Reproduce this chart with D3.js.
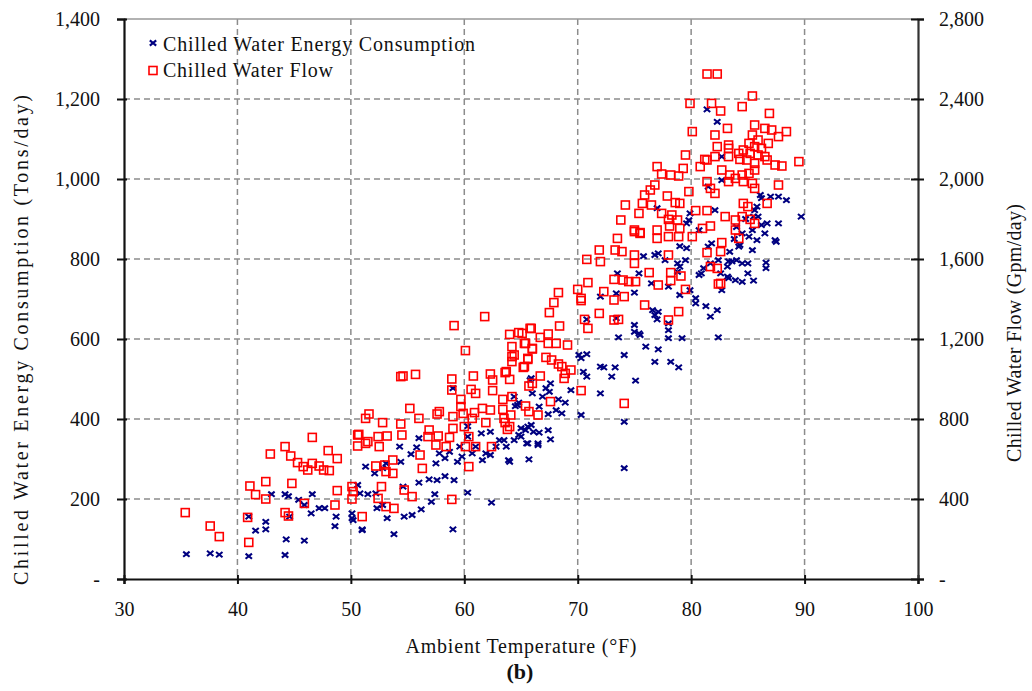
<!DOCTYPE html>
<html>
<head>
<meta charset="utf-8">
<script src="https://cdn.jsdelivr.net/npm/d3@7"></script>
<style>
  body { margin: 0; background: #fff; }
  svg text { font-family: "Liberation Serif", "Times New Roman", serif; fill: #111; }
</style>
</head>
<body>
<div id="chart"></div>
<script>
// chart values
const xTicks = [30, 40, 50, 60, 70, 80, 90, 100];
const leftTicks = [0, 200, 400, 600, 800, 1000, 1200, 1400];
const rightTicks = [0, 400, 800, 1200, 1600, 2000, 2400, 2800];
const seriesNames = ["Chilled Water Energy Consumption", "Chilled Water Flow"];

// [ambient temp F, tons/day]
const energyPoints = [
  [35.5,62],[37.6,64],[38.4,61],[41.0,57],[41.0,156],[41.6,121],[42.5,143],[42.5,124],[43.0,212],[44.2,212],
  [44.5,207],[44.3,99],[44.2,60],[45.9,96],[45.4,198],[45.9,185],[46.6,212],[46.5,164],[47.2,177],[47.7,177],
  [44.6,156],[48.7,156],[48.6,132],[50.1,164],[50.1,152],[50.6,235],[51.0,122],
  [59.0,124],[51.0,124],[53.8,112],[50.2,147],[53.2,152],[54.7,156],[55.4,160],[56.2,174],[52.3,177],[52.8,185],
  [57.1,193],[57.4,212],[60.3,216],[62.4,191],[50.8,214],[51.5,212],[52.2,214],[54.6,231],[56.0,241],[56.9,249],
  [57.6,247],[58.3,257],[59.1,247],[51.3,281],[52.1,264],[52.8,277],[53.1,289],[54.4,293],[55.3,312],[55.8,329],
  [56.0,352],[54.3,331],[57.5,289],[57.8,314],[58.3,302],[58.7,318],[59.4,293],[59.6,331],[59.8,306],[60.3,356],
  [60.3,382],[60.7,314],[61.0,331],[61.6,297],[61.9,314],[62.3,310],[62.8,331],[63.1,347],[63.7,331],[64.0,293],
  [63.5,347],[64.4,347],[65.0,377],[65.6,381],[65.6,339],[65.7,299],[66.5,335],[66.1,368],[64.5,432],[64.8,441],
  [66.0,464],[65.0,356],[62.3,368],[61.5,364],[59.0,477],[65.8,497],
  [74.1,277],[74.1,393],[70.3,410],[72.0,464],[75.1,496],[73.0,506],[73.3,529],[72.0,531],[72.3,529],[70.5,518],
  [70.8,506],[70.1,560],[70.8,562],[74.1,560],[73.6,604],[76.0,581],[77.1,574],[75.0,635],[75.0,618],[75.5,610],
  [73.4,652],[70.8,649],[73.4,714],[72.0,706],[75.0,716],[76.6,672],[77.0,649],[73.5,764],[75.4,764],[75.8,807],
  [77.1,814],[77.7,797],[69.4,472],[68.6,414],[68.9,441],[68.3,449],[67.5,468],[67.6,489],[67.2,477],[66.9,456],
  [65.9,502],[64.7,435],[64.4,456],[67.4,412],[66.6,431],[68.1,422],[65.9,385],[65.4,372],[64.8,360],[66.6,366],
  [67.4,372],[67.6,349],[66.5,339],[65.5,339],[63.9,297],[70.3,552],[76.8,810],
  [82.4,604],[79.2,602],[78.0,602],[78.2,543],[78.9,529],[78.0,622],[78.0,639],[75.4,614],[76.8,660],[77.1,668],
  [80.4,689],[81.3,682],[81.7,656],[82.3,672],[79.9,722],[80.4,702],[79.0,710],[78.0,731],[76.5,739],[78.8,768],
  [79.0,781],[79.5,797],[78.8,789],[79.6,827],[79.0,832],[80.7,760],[81.1,777],[81.7,789],[82.4,797],[83.2,781],
  [83.6,794],[83.2,756],[83.9,747],[82.7,722],[83.4,818],[84.0,797],[84.3,835],[81.8,839],[81.5,831],[80.7,872],
  [79.9,914],[79.8,897],[81.5,981],[82.1,922],[79.6,889],[77.0,927],[82.3,1143],[76.8,543],
  [81.4,1174],[82.7,1056],[82.7,997],[87.0,956],[87.7,956],[88.4,947],[86.2,952],[89.7,906],[87.7,889],[87.4,847],
  [85.6,922],[85.9,906],[86.2,885],[85.4,872],[86.5,864],[85.1,856],[85.8,847],[84.5,864],[84.2,831],[85.4,822],
  [87.5,843],[84.5,789],[85.0,789],[86.6,791],[86.6,777],[83.3,794],[85.0,764],[84.5,743],[85.5,746],[83.3,752],
  [82.6,764],[80.9,764],[86.1,960],[85.8,931],[85.5,906],[86.7,889],[84.0,880],[84.8,900],[83.8,850]
];

// [ambient temp F, gpm/day]
const flowPoints = [
  [35.4,332],[37.6,265],[38.4,212],[40.9,308],[41.0,183],[41.1,465],[41.6,422],[42.5,487],[42.5,400],[42.9,625],
  [44.2,662],[44.7,615],[44.8,478],[45.3,582],[45.8,562],[46.2,545],[46.6,578],[46.6,708],[47.2,565],[47.6,545],
  [48.1,542],[48.0,642],[48.8,602],[48.8,442],[45.9,378],[44.2,332],[44.5,315],[48.6,370],[50.1,462],[50.1,400],
  [51.0,312],[50.6,720],[50.6,665],[51.3,678],
  [61.8,1312],[59.1,1267],[60.1,1142],[64.0,1223],[64.8,1232],[65.8,1253],[64.2,1162],[65.3,1178],[66.0,1150],[64.2,1112],
  [64.2,1087],[65.2,1058],[65.6,1098],[54.4,1012],[54.6,1015],[55.7,1023],[58.9,1000],[60.8,1015],[62.3,1025],[62.5,995],
  [63.7,1037],[64.0,998],[58.9,945],[60.6,948],[61.0,928],[62.5,942],[63.4,898],[64.2,912],[59.7,898],[59.7,862],
  [55.2,853],[57.8,837],[60.9,832],[61.6,853],[62.3,845],[63.4,848],[64.1,820],[51.3,803],[51.6,825],[52.8,782],
  [54.4,775],[56.0,803],[57.6,825],[59.0,812],[59.9,828],[60.7,803],[61.9,782],[63.5,803],[64.0,762],[56.9,745],
  [59.0,753],[60.0,762],[50.7,723],[51.5,687],[52.4,712],[52.5,662],[53.2,715],[54.5,720],[56.8,712],[57.7,715],
  [58.7,708],[60.4,712],[57.5,670],[58.4,662],[60.1,662],[61.0,662],[62.4,662],[56.1,620],[56.3,553],[53.7,595],
  [53.0,570],[52.2,565],[53.1,537],[53.7,528],[60.4,562],[50.2,437],[52.4,403],[52.7,462],[54.7,445],[55.4,412],
  [58.9,398],[53.1,362],[53.8,353],
  [73.5,1703],[75.0,1737],[75.5,1732],[71.9,1645],[73.3,1645],[73.9,1637],[75.0,1620],[75.0,1578],[72.0,1587],[70.8,1598],
  [76.3,1532],[77.1,1470],[73.2,1498],[74.0,1495],[74.5,1487],[75.1,1487],[70.9,1482],[70.0,1448],[72.3,1437],[74.1,1412],
  [73.2,1395],[70.3,1403],[70.3,1392],[68.3,1432],[67.9,1382],[67.5,1332],[68.4,1265],[71.9,1328],[70.6,1298],[70.9,1253],
  [73.2,1295],[73.6,1298],[75.9,1370],[65.9,1253],[65.1,1228],[67.4,1225],[66.7,1208],[67.4,1178],[68.1,1178],[69.1,1170],
  [65.4,1178],[66.0,1153],[64.4,1120],[65.6,1103],[67.2,1108],[67.7,1095],[68.3,1075],[68.6,1062],[65.3,1062],[68.9,1028],
  [69.4,1045],[68.8,1003],[66.7,1015],[63.6,1032],[66.0,978],[65.7,965],[70.3,942],[67.6,887],[65.4,865],[65.7,837],
  [66.5,820],[74.1,878],[63.6,782],[63.8,748],
  [80.1,2237],[79.5,2120],[77.0,2062],[77.4,2025],[78.2,2020],[78.9,2015],[79.3,2053],[80.8,2062],[81.4,2095],[82.1,2220],
  [82.3,2162],[83.3,2153],[76.8,1970],[76.4,1945],[75.9,1920],[77.9,1915],[78.6,1882],[79.0,1878],[79.8,1937],[74.2,1870],
  [75.7,1878],[76.5,1870],[75.4,1828],[77.4,1828],[78.3,1820],[78.0,1798],[80.4,1842],[81.4,1842],[78.8,1795],[73.8,1795],
  [75.0,1745],[75.5,1728],[77.0,1745],[78.1,1765],[79.0,1753],[78.0,1712],[78.9,1712],[80.1,1712],[81.0,1753],[81.7,1765],
  [77.0,1703],[78.0,1620],[81.4,1632],[81.7,1562],[82.3,1553],[82.4,1475],[79.5,1448],[79.1,1515],[78.2,1532],[78.2,1492],
  [78.9,1337],[78.0,1295],
  [81.4,2525],[82.3,2525],[85.4,2415],[84.5,2362],[81.8,2378],[82.6,2340],[86.9,2328],[83.2,2253],[85.6,2270],[86.5,2253],
  [87.1,2245],[88.4,2237],[87.7,2212],[85.4,2220],[85.9,2195],[85.1,2178],[85.6,2162],[86.2,2153],[86.8,2178],[84.6,2145],
  [85.2,2128],[85.9,2120],[86.5,2112],[84.2,2128],[82.1,2112],[83.3,2112],[84.3,2098],[84.9,2095],[85.6,2078],[86.7,2095],
  [87.4,2070],[88.0,2065],[89.5,2087],[81.2,2098],[82.7,2045],[83.4,2020],[83.9,2003],[84.5,2020],[85.1,2028],[85.6,2045],
  [84.6,1987],[85.4,1978],[83.3,1987],[87.7,1970],[81.4,1987],[81.7,1953],[82.1,1928],[85.6,1953],[84.6,1878],[85.0,1862],
  [86.7,1878],[83.0,1812],[83.9,1795],[84.5,1812],[85.2,1798],[85.6,1778],[83.9,1745],[82.7,1682],[82.6,1637],[82.6,1478],
  [84.2,1703],[79.9,2378],[83.3,2170]
];

const WIDTH = 1032;
const HEIGHT = 691;
const PLOT = { left: 124, right: 918, top: 19, bottom: 579 };
const BLUE = '#000080';
const RED = '#ff0000';
const SQ = 8;

const svg = d3.select('#chart')
  .append('svg')
  .attr('width', WIDTH)
  .attr('height', HEIGHT);

const xScale = d3.scaleLinear().domain([30, 100]).range([PLOT.left, PLOT.right]);
const yLeft = d3.scaleLinear().domain([0, 1400]).range([PLOT.bottom, PLOT.top]);
const yRight = d3.scaleLinear().domain([0, 2800]).range([PLOT.bottom, PLOT.top]);

const fmt = v => v === 0 ? '-' : d3.format(',')(v);

// gridlines
const grid = svg.append('g').attr('class', 'grid')
  .attr('stroke', '#8c8c8c')
  .attr('stroke-width', 1.5)
  .attr('stroke-dasharray', '6,4');

grid.selectAll('line.v')
  .data(xTicks.filter(d => d > 30 && d < 100))
  .enter().append('line')
  .attr('x1', d => xScale(d)).attr('x2', d => xScale(d))
  .attr('y1', PLOT.top).attr('y2', PLOT.bottom);

grid.selectAll('line.h')
  .data(leftTicks.filter(d => d > 0 && d < 1400))
  .enter().append('line')
  .attr('x1', PLOT.left).attr('x2', PLOT.right)
  .attr('y1', d => yLeft(d)).attr('y2', d => yLeft(d));

// top border
svg.append('line')
  .attr('x1', PLOT.left).attr('x2', PLOT.right)
  .attr('y1', PLOT.top).attr('y2', PLOT.top)
  .attr('stroke', '#999').attr('stroke-width', 1.5);

// energy series (x markers)
svg.append('g')
  .selectAll('path')
  .data(energyPoints)
  .enter().append('path')
  .attr('transform', d => `translate(${xScale(d[0])},${yLeft(d[1])})`)
  .attr('d', 'M-3.2,-2.6L3.2,2.6M3.2,-2.6L-3.2,2.6')
  .attr('stroke', BLUE)
  .attr('stroke-width', 2.1)
  .attr('fill', 'none');

// flow series (open squares)
svg.append('g')
  .selectAll('rect')
  .data(flowPoints)
  .enter().append('rect')
  .attr('x', d => xScale(d[0]) - SQ / 2)
  .attr('y', d => yRight(d[1]) - SQ / 2)
  .attr('width', SQ)
  .attr('height', SQ)
  .attr('fill', 'none')
  .attr('stroke', RED)
  .attr('stroke-width', 1.6);

// axes
const xAxis = svg.append('g')
  .attr('transform', `translate(0,${PLOT.bottom})`)
  .call(d3.axisBottom(xScale).tickValues(xTicks).tickSize(5).tickPadding(18).tickFormat(d3.format('d')));
xAxis.selectAll('.tick line').attr('y1', -4).attr('y2', 5);

const leftAxis = svg.append('g')
  .attr('transform', `translate(${PLOT.left},0)`)
  .call(d3.axisLeft(yLeft).tickValues(leftTicks).tickSize(7).tickPadding(17).tickFormat(fmt));
leftAxis.selectAll('.tick line').attr('x1', 3).attr('x2', -7);

const rightAxis = svg.append('g')
  .attr('transform', `translate(${PLOT.right},0)`)
  .call(d3.axisRight(yRight).tickValues(rightTicks).tickSize(6).tickPadding(15).tickFormat(fmt));
rightAxis.selectAll('.tick line').attr('x1', -7).attr('x2', 6);

[xAxis, leftAxis, rightAxis].forEach(a => {
  a.select('.domain').attr('stroke', '#111').attr('stroke-width', 2.2);
  a.selectAll('.tick line').attr('stroke', '#111').attr('stroke-width', 2);
  a.selectAll('text')
    .style('font-family', '"Liberation Serif", serif')
    .style('font-size', '20px')
    .attr('fill', '#111');
});
rightAxis.select('.domain').attr('stroke', '#333');

// axis titles
svg.append('text')
  .attr('x', 521).attr('y', 653)
  .attr('text-anchor', 'middle')
  .attr('textLength', 231)
  .style('font-size', '20px')
  .text('Ambient Temperature (°F)');

svg.append('text')
  .attr('x', 520).attr('y', 679)
  .attr('text-anchor', 'middle')
  .style('font-size', '22px')
  .style('font-weight', 'bold')
  .text('(b)');

svg.append('text')
  .attr('transform', 'translate(28,340) rotate(-90)')
  .attr('text-anchor', 'middle')
  .attr('textLength', 490)
  .style('font-size', '20px')
  .text('Chilled Water Energy Consumption (Tons/day)');

svg.append('text')
  .attr('transform', 'translate(1021,333) rotate(-90)')
  .attr('text-anchor', 'middle')
  .attr('textLength', 258)
  .style('font-size', '20px')
  .text('Chilled Water Flow (Gpm/day)');

// legend
const legend = svg.append('g');
legend.append('path')
  .attr('transform', 'translate(153,43)')
  .attr('d', 'M-3.2,-2.6L3.2,2.6M3.2,-2.6L-3.2,2.6')
  .attr('stroke', BLUE).attr('stroke-width', 2.1).attr('fill', 'none');
legend.append('rect')
  .attr('x', 153 - SQ / 2).attr('y', 70.5 - SQ / 2).attr('width', SQ).attr('height', SQ)
  .attr('fill', 'none').attr('stroke', RED).attr('stroke-width', 1.6);
legend.selectAll('text')
  .data(seriesNames)
  .enter().append('text')
  .attr('x', 163)
  .attr('y', (d, i) => 51 + i * 26)
  .attr('textLength', (d, i) => i === 0 ? 312 : 170)
  .style('font-size', '20px')
  .text(d => d);
</script>
</body>
</html>
